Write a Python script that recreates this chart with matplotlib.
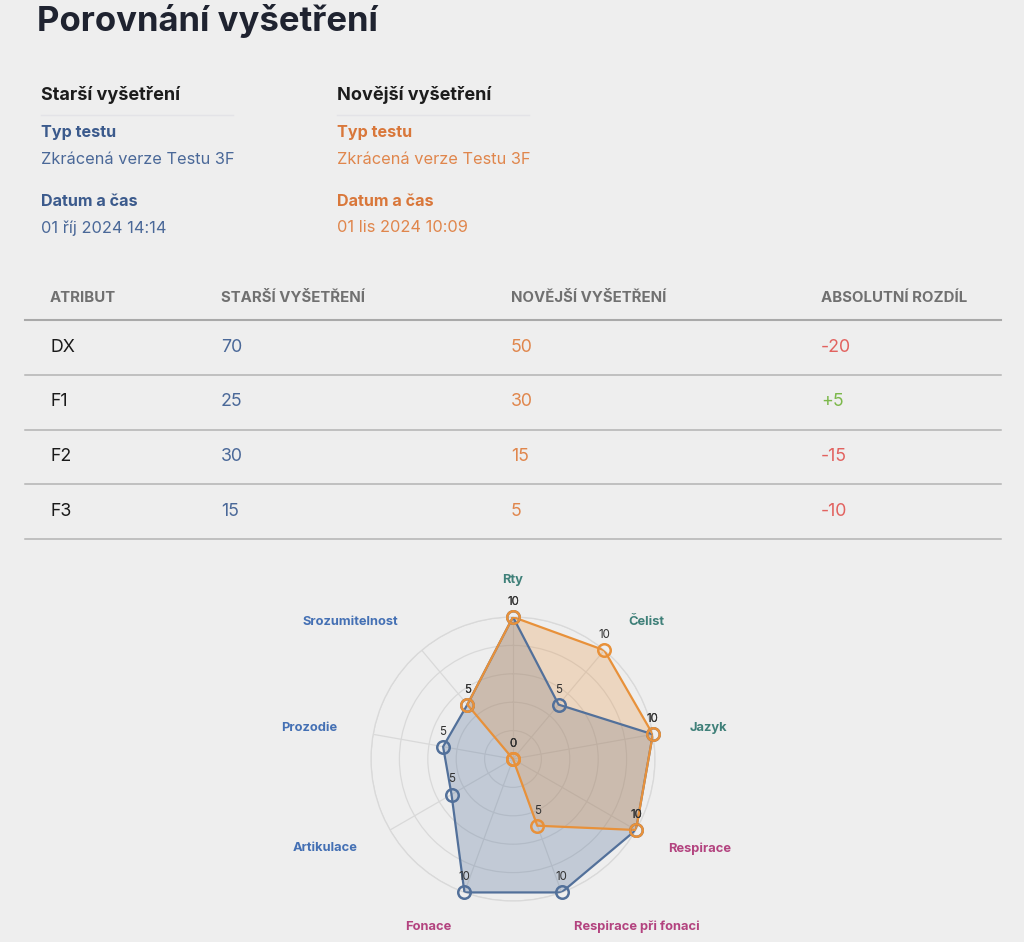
import numpy as np
import matplotlib
matplotlib.use("Agg")
import matplotlib.pyplot as plt

plt.rcParams['font.family'] = ['Inter', 'DejaVu Sans']

# --- data ---
title = "Porovnání vyšetření"
older_label = "Starší vyšetření"
newer_label = "Novější vyšetření"
older_type = "Zkrácená verze Testu 3F"
newer_type = "Zkrácená verze Testu 3F"
older_date = "01 říj 2024 14:14"
newer_date = "01 lis 2024 10:09"

table_header = ["ATRIBUT", "STARŠÍ VYŠETŘENÍ", "NOVĚJŠÍ VYŠETŘENÍ", "ABSOLUTNÍ ROZDÍL"]
attributes = ["DX", "F1", "F2", "F3"]
older_scores = [70, 25, 30, 15]
newer_scores = [50, 30, 15, 5]

radar_labels = ["Rty", "Čelist", "Jazyk", "Respirace", "Respirace při fonaci",
                "Fonace", "Artikulace", "Prozodie", "Srozumitelnost"]
radar_groups = ["teal", "teal", "teal", "magenta", "magenta",
                "magenta", "blue", "blue", "blue"]
older_radar = [10, 5, 10, 10, 10, 10, 5, 5, 5]
newer_radar = [10, 10, 10, 10, 5, 0, 0, 0, 5]

# --- colours ---
bg = "#eeeeee"
dark = "#1f2330"
blue_h = "#3b5a8c"
blue_t = "#4a6898"
orange_h = "#d9773a"
orange_t = "#e0864c"
group_colors = {"teal": "#3f8079", "magenta": "#b3437f", "blue": "#4470b4"}
line_blue = "#52709a"
line_orange = "#e8913a"

W, H = 1024, 942
fig = plt.figure(figsize=(W / 100, H / 100), dpi=100)
fig.patch.set_facecolor(bg)

ax0 = fig.add_axes([0, 0, 1, 1])
ax0.set_xlim(0, W)
ax0.set_ylim(H, 0)
ax0.axis("off")

# header block
ax0.text(37, 21, title, fontsize=25, fontweight="bold", color=dark, va="center")

cols = [(41, older_label, older_type, older_date, blue_h, blue_t),
        (337, newer_label, newer_type, newer_date, orange_h, orange_t)]
for x, lab, typ, date, ch, ct in cols:
    ax0.text(x, 95, lab, fontsize=13, fontweight="bold", color="#1c1c1c", va="center")
    ax0.plot([x, x + 192], [115, 115], color="#e3e3e7", lw=1)
    ax0.text(x, 132, "Typ testu", fontsize=11.6, fontweight="bold", color=ch, va="center")
    ax0.text(x, 159, typ, fontsize=11.8, color=ct, va="center")
    ax0.text(x, 201, "Datum a čas", fontsize=11.6, fontweight="bold", color=ch, va="center")
    ax0.text(x, 228, date, fontsize=11.8, color=ct, va="center")

# table
col_x = [50, 221, 511, 821]
for cx, h in zip(col_x, table_header):
    ax0.text(cx, 298, h, fontsize=10.8, fontweight="bold", color="#707070", va="center")
ax0.plot([25, 1001], [320, 320], color="#a9a9a9", lw=1.5)

row_y0, row_h = 347, 54.7
for i, (a, o, n) in enumerate(zip(attributes, older_scores, newer_scores)):
    y = row_y0 + i * row_h
    d = n - o
    dcol = "#7cb84b" if d > 0 else "#e2625f"
    ax0.text(col_x[0], y, a, fontsize=12.8, color="#1a1a1a", va="center")
    ax0.text(col_x[1], y, str(o), fontsize=12.8, color=blue_t, va="center")
    ax0.text(col_x[2], y, str(n), fontsize=12.8, color=orange_t, va="center")
    ax0.text(col_x[3], y, f"{d:+d}", fontsize=12.8, color=dcol, va="center")
    ax0.plot([25, 1001], [y + 28, y + 28], color="#b3b3b3", lw=1.1)

# radar
cx, cy, R = 513, 759, 142
ax = fig.add_axes([(cx - R) / W, 1 - (cy + R) / H, 2 * R / W, 2 * R / H], projection="polar")
ax.set_facecolor("none")
ax.set_theta_offset(np.pi / 2)
ax.set_theta_direction(-1)
ax.set_ylim(0, 10)
n_cat = len(radar_labels)
theta = np.arange(n_cat) * 2 * np.pi / n_cat
ax.set_thetagrids(np.degrees(theta), [""] * n_cat)
ax.set_rgrids([2, 4, 6, 8, 10], [""] * 5)
ax.grid(color="#d9d9d9", lw=0.9)
ax.spines["polar"].set_color("#d9d9d9")
ax.spines["polar"].set_linewidth(0.9)

th_c = np.append(theta, theta[0])
series = [(older_radar, line_blue, 0.28), (newer_radar, line_orange, 0.25)]
for k, (vals, lc, fa) in enumerate(series):
    v = np.append(vals, vals[0])
    ax.fill(th_c, v, color=lc, alpha=fa, lw=0, zorder=2 + k)
for k, (vals, lc, fa) in enumerate(series):
    v = np.append(vals, vals[0])
    ax.plot(th_c, v, color=lc, lw=1.6, zorder=5 + k)
    ax.plot(theta, vals, ls="none", marker="o", ms=9, mfc="none", mec=lc, mew=1.8,
            zorder=7 + k, clip_on=False)
    for t, val in zip(theta, vals):
        ax.annotate(str(val), (t, val), xytext=(0, 15), textcoords="offset pixels",
                    ha="center", va="center", fontsize=8.3, color="#333333",
                    zorder=10, annotation_clip=False)

for t, lab, g in zip(theta, radar_labels, radar_groups):
    s = np.sin(t)
    if abs(s) < 1e-6:
        ha = "center"
    elif s > 0:
        ha = "left"
    else:
        ha = "right"
    ax.text(t, 12.6, lab, ha=ha, va="center", fontsize=9.3, fontweight="bold",
            color=group_colors[g], clip_on=False)

fig.savefig("out.png", dpi=100, facecolor=bg)
